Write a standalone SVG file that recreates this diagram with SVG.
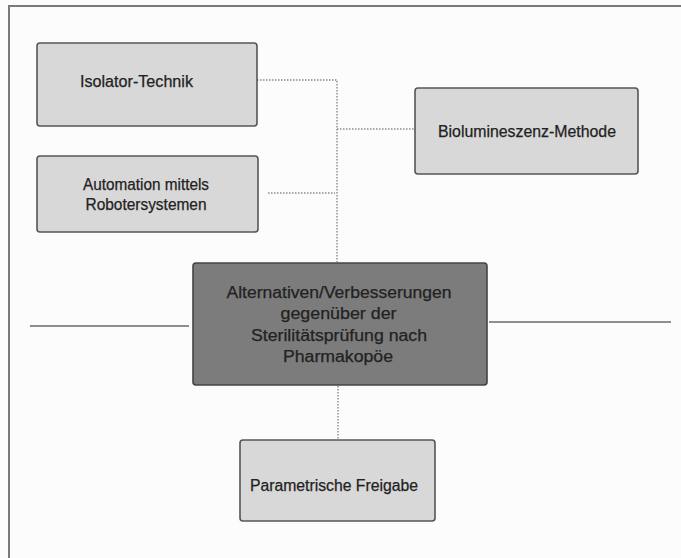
<svg xmlns="http://www.w3.org/2000/svg" width="681" height="558" viewBox="0 0 681 558">
<style>
.bg{fill:#fcfcfc}
.frame{stroke:#7a7a7a;stroke-width:2;fill:none}
.box{fill:#d8d8d8;stroke:#555;stroke-width:1.6}
.dark{fill:#7c7c7c;stroke:#444;stroke-width:1.6}
.dot{stroke:#8a8a8a;stroke-width:1.4;stroke-dasharray:1.5 1.5;fill:none}
.solid{stroke:#6a6a6a;stroke-width:1.5;fill:none}
text{font-family:"Liberation Sans",Arial,sans-serif;font-size:16px;fill:#222;stroke:#222;stroke-width:0.25;text-anchor:middle}
</style>
<rect class="bg" x="0" y="0" width="681" height="558"/>
<path class="frame" d="M9,558 V6 H681"/>
<g id="connectors">
<path class="dot" d="M257,80 H337 V262"/>
<path class="dot" d="M337,129 H415"/>
<path class="dot" d="M268,193 H335"/>
<path class="dot" d="M338,386 V439"/>
<path class="solid" d="M30,326 H189"/>
<path class="solid" d="M489,322 H671"/>
</g>
<g id="isolator">
<rect class="box" x="37" y="43" width="220" height="83" rx="3"/>
<text x="136.5" y="87" textLength="113" lengthAdjust="spacingAndGlyphs">Isolator-Technik</text>
</g>
<g id="automation">
<rect class="box" x="37" y="156" width="221" height="76" rx="3"/>
<text x="146" y="190" textLength="126" lengthAdjust="spacingAndGlyphs">Automation mittels</text>
<text x="146" y="210" textLength="121" lengthAdjust="spacingAndGlyphs">Robotersystemen</text>
</g>
<g id="biolumineszenz">
<rect class="box" x="415" y="88" width="223" height="86" rx="3"/>
<text x="527" y="137" textLength="178" lengthAdjust="spacingAndGlyphs">Biolumineszenz-Methode</text>
</g>
<g id="zentral">
<rect class="dark" x="193" y="263" width="294" height="122" rx="3"/>
<text x="339" y="298" textLength="225" lengthAdjust="spacingAndGlyphs">Alternativen/Verbesserungen</text>
<text x="338.5" y="319" textLength="116" lengthAdjust="spacingAndGlyphs">gegenüber der</text>
<text x="339" y="341" textLength="176" lengthAdjust="spacingAndGlyphs">Sterilitätsprüfung nach</text>
<text x="338" y="362" textLength="110" lengthAdjust="spacingAndGlyphs">Pharmakopöe</text>
</g>
<g id="parametrisch">
<rect class="box" x="240" y="440" width="195" height="81" rx="3"/>
<text x="334" y="491" textLength="168" lengthAdjust="spacingAndGlyphs">Parametrische Freigabe</text>
</g>
</svg>
